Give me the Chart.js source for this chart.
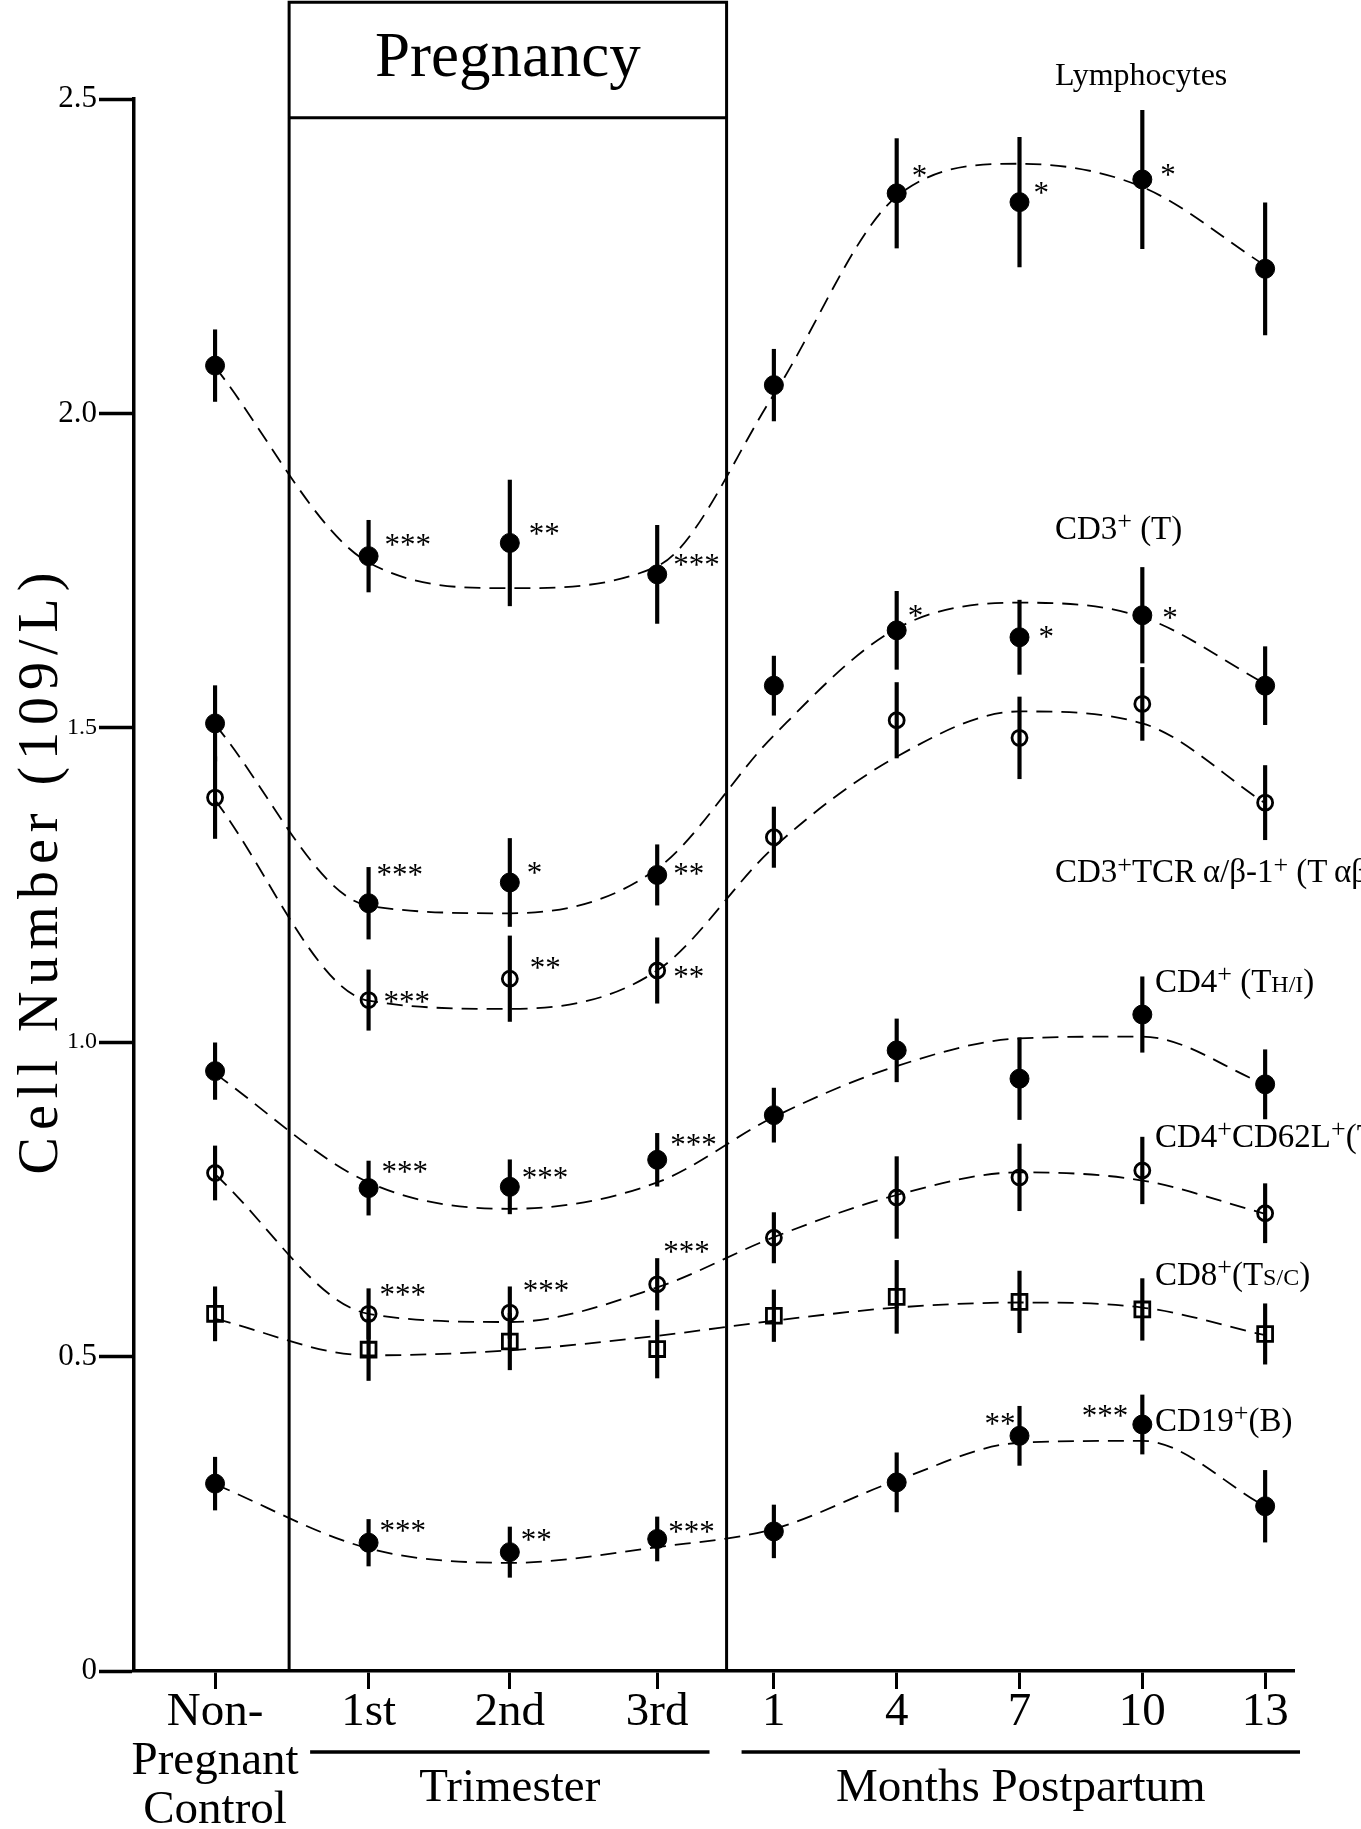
<!DOCTYPE html>
<html>
<head>
<meta charset="utf-8">
<script src="https://cdn.jsdelivr.net/npm/chart.js@4.4.1/dist/chart.umd.min.js"></script>
<style>
  html, body { margin: 0; padding: 0; background: #ffffff; }
  #wrap { width: 1361px; height: 1829px; position: relative; }
</style>
</head>
<body>
<div id="wrap"><canvas id="c"></canvas></div>
<script>
const FONT = "'Liberation Serif', 'Times New Roman', Times, serif";

// ---------- categories / ticks ----------
const categories  = ['Non-Pregnant Control', '1st', '2nd', '3rd', '1', '4', '7', '10', '13'];
const xTickLabels = [['Non-', 'Pregnant', 'Control'], '1st', '2nd', '3rd', '1', '4', '7', '10', '13'];
const xSlots      = [0, 1.25, 2.4, 3.6, 4.55, 5.55, 6.55, 7.55, 8.55];
const yTicks      = [0, 0.5, 1.0, 1.5, 2.0, 2.5];
const yTickLabels = ['0', '0.5', '1.0', '1.5', '2.0', '2.5'];

// ---------- series (cell number, 10^9/L) ----------
const lymphMean = [2.076, 1.773, 1.794, 1.744, 2.045, 2.350, 2.336, 2.372, 2.230];
const lymphSE   = [0.057, 0.057, 0.100, 0.078, 0.057, 0.087, 0.103, 0.110, 0.105];
const lymphFit  = [2.074, 1.763, 1.722, 1.757, 2.030, 2.345, 2.397, 2.360, 2.235];
const lymphSig  = ['', '***', '**', '***', '', '*', '*', '*', ''];

const cd3Mean = [1.507, 1.221, 1.254, 1.266, 1.567, 1.655, 1.644, 1.679, 1.567];
const cd3SE   = [0.060, 0.057, 0.070, 0.048, 0.047, 0.062, 0.059, 0.076, 0.062];
const cd3Fit  = [1.505, 1.217, 1.205, 1.276, 1.488, 1.658, 1.699, 1.676, 1.570];
const cd3Sig  = ['', '***', '*', '**', '', '*', '*', '*', ''];

const tabMean = [1.389, 1.067, 1.101, 1.114, 1.326, 1.512, 1.484, 1.538, 1.381];
const tabSE   = [0.065, 0.048, 0.068, 0.052, 0.048, 0.060, 0.065, 0.058, 0.059];
const tabFit  = [1.385, 1.066, 1.053, 1.114, 1.310, 1.454, 1.526, 1.507, 1.380];
const tabSig  = ['', '***', '**', '**', '', '', '', '', ''];

const cd4Mean = [0.954, 0.768, 0.770, 0.813, 0.884, 0.987, 0.942, 1.044, 0.933];
const cd4SE   = [0.045, 0.043, 0.043, 0.042, 0.043, 0.050, 0.065, 0.060, 0.055];
const cd4Fit  = [0.950, 0.777, 0.735, 0.777, 0.881, 0.962, 1.006, 1.009, 0.933];
const cd4Sig  = ['', '***', '***', '***', '', '', '', '', ''];

const cd62Mean = [0.792, 0.568, 0.570, 0.615, 0.689, 0.753, 0.785, 0.796, 0.728];
const cd62SE   = [0.043, 0.040, 0.041, 0.041, 0.040, 0.065, 0.053, 0.053, 0.047];
const cd62Fit  = [0.790, 0.568, 0.555, 0.610, 0.690, 0.757, 0.793, 0.780, 0.727];
const cd62Sig  = ['', '***', '***', '***', '', '', '', '', ''];

const cd8Mean = [0.568, 0.511, 0.524, 0.512, 0.565, 0.595, 0.587, 0.575, 0.536];
const cd8SE   = [0.043, 0.049, 0.045, 0.046, 0.041, 0.058, 0.049, 0.049, 0.048];
const cd8Fit  = [0.560, 0.502, 0.510, 0.533, 0.557, 0.578, 0.586, 0.578, 0.534];
const cd8Sig  = ['', '', '', '', '', '', '', '', ''];

const cd19Mean = [0.298, 0.204, 0.189, 0.210, 0.222, 0.300, 0.374, 0.392, 0.262];
const cd19SE   = [0.042, 0.037, 0.040, 0.035, 0.042, 0.047, 0.047, 0.047, 0.057];
const cd19Fit  = [0.297, 0.195, 0.172, 0.197, 0.226, 0.303, 0.363, 0.366, 0.262];
const cd19Sig  = ['', '***', '**', '***', '', '', '**', '***', ''];

// ---------- layout / style (not data) ----------
const seriesDefs = [
  { key: 'lymph', name: 'Lymphocytes', mean: lymphMean, se: lymphSE, fit: lymphFit, sig: lymphSig, marker: 'filled' },
  { key: 'cd3',   name: 'CD3+ (T)', mean: cd3Mean, se: cd3SE, fit: cd3Fit, sig: cd3Sig, marker: 'filled' },
  { key: 'tab',   name: 'CD3+TCRα/β-1+ (Tαβ)', mean: tabMean, se: tabSE, fit: tabFit, sig: tabSig, marker: 'open' },
  { key: 'cd4',   name: 'CD4+ (TH/I)', mean: cd4Mean, se: cd4SE, fit: cd4Fit, sig: cd4Sig, marker: 'filled' },
  { key: 'cd62',  name: 'CD4+CD62L+', mean: cd62Mean, se: cd62SE, fit: cd62Fit, sig: cd62Sig, marker: 'open' },
  { key: 'cd8',   name: 'CD8+(Ts/c)', mean: cd8Mean, se: cd8SE, fit: cd8Fit, sig: cd8Sig, marker: 'square' },
  { key: 'cd19',  name: 'CD19+(B)', mean: cd19Mean, se: cd19SE, fit: cd19Fit, sig: cd19Sig, marker: 'filled' }
];

const seriesLabels = {
  lymph: { x: 6.838, y: 2.522, size: 32, parts: [['Lymphocytes']] },
  cd3:   { x: 6.838, y: 1.801, size: 33, parts: [['CD3'], ['+', 'sup'], [' (T)']] },
  tab:   { x: 6.838, y: 1.254, size: 33, parts: [['CD3'], ['+', 'sup'], ['TCR\u2009α/β-1'], ['+', 'sup'], [' (T\u2009αβ)']] },
  cd4:   { x: 7.653, y: 1.080, size: 33, parts: [['CD4'], ['+', 'sup'], [' (T'], ['H/I', 'sc'], [')']] },
  cd62:  { x: 7.653, y: 0.833, size: 33, parts: [['CD4'], ['+', 'sup'], ['CD62L'], ['+', 'sup'], ['(T']] },
  cd8:   { x: 7.653, y: 0.614, size: 33, parts: [['CD8'], ['+', 'sup'], ['(T'], ['S/C', 'sc'], [')']] },
  cd19:  { x: 7.653, y: 0.382, size: 33, parts: [['CD19'], ['+', 'sup'], ['(B)']] }
};

// offsets of significance stars from their point [dx, dy, align]
const sigOffsets = {
  lymph: [null, [16, -16], [19, -14], [16, -14], null, [15, -22], [14, -14], [18, -9], null],
  cd3:   [null, [8, -33], [17, -14], [16, -6], null, [11, -19], [19, -5], [20, -2], null],
  tab:   [null, [15, -3], [20, -16], [16, 1], null, null, null, null, null],
  cd4:   [null, [13, -21], [12, -14], [13, -20], null, null, null, null, null],
  cd62:  [null, [11, -24], [13, -27], [6, -37], null, null, null, null, null],
  cd8:   [null, null, null, null, null, null, null, null, null],
  cd19:  [null, [11, -17], [11, -17], [11, -12], null, null, [-4, -17, 'right'], [-14, -14, 'right'], null]
};

const pregnancyBox = { left: 0.603, right: 4.165, top: 2.654, header: 2.47, title: 'Pregnancy' };
const groupBands = [
  { label: 'Trimester', from: 0.774, to: 4.026 },
  { label: 'Months Postpartum', from: 4.287, to: 8.834 }
];
const yTitle = 'Cell Number (109/L)';

// ---------- datasets ----------
const datasets = [];
seriesDefs.forEach(s => {
  datasets.push({
    type: 'line', label: s.name + ' fit',
    data: xSlots.map((x, i) => ({ x: x, y: s.fit[i] })),
    borderColor: '#000', borderWidth: 1.8, borderDash: [16, 9],
    pointRadius: 0, pointHoverRadius: 0, fill: false,
    cubicInterpolationMode: 'monotone', order: 3
  });
  datasets.push({
    type: 'bar', label: s.name + ' SE',
    data: xSlots.map((x, i) => ({ x: x, y: [s.mean[i] - s.se[i], s.mean[i] + s.se[i]] })),
    backgroundColor: '#000', borderWidth: 0, barThickness: 3.5, grouped: false, order: 2
  });
  const m = s.marker;
  const r = m === 'filled' ? 9.5 : (m === 'open' ? 7.5 : 10.5);
  datasets.push({
    type: 'scatter', label: s.name,
    data: xSlots.map((x, i) => ({ x: x, y: s.mean[i] })),
    pointStyle: m === 'square' ? 'rect' : 'circle',
    pointRadius: r,
    pointHoverRadius: r,
    backgroundColor: m === 'filled' ? '#000' : 'rgba(0,0,0,0)',
    borderColor: '#000',
    borderWidth: m === 'filled' ? 1 : 2.8,
    showLine: false, order: 1
  });
});

// ---------- drawing helpers ----------
function richText(ctx, x, y, parts, base) {
  let cx = x;
  parts.forEach(p => {
    const t = p[0], kind = p[1];
    let size = base, dy = 0;
    if (kind === 'sup') { size = Math.round(base * 0.78); dy = -base * 0.3; }
    if (kind === 'sc') { size = Math.round(base * 0.72); }
    ctx.font = size + 'px ' + FONT;
    ctx.fillText(t, cx, y + dy);
    cx += ctx.measureText(t).width;
  });
}

const annotations = {
  id: 'annotations',
  afterDatasetsDraw(chart) {
    const ctx = chart.ctx;
    const xs = chart.scales.x, ys = chart.scales.y;
    const area = chart.chartArea;
    ctx.save();
    ctx.fillStyle = '#000';
    ctx.strokeStyle = '#000';

    // Pregnancy box
    const bl = xs.getPixelForValue(pregnancyBox.left);
    const br = xs.getPixelForValue(pregnancyBox.right);
    const bt = ys.getPixelForValue(pregnancyBox.top);
    const bh = ys.getPixelForValue(pregnancyBox.header);
    ctx.lineWidth = 3;
    ctx.beginPath();
    ctx.moveTo(bl, area.bottom); ctx.lineTo(bl, bt); ctx.lineTo(br, bt); ctx.lineTo(br, area.bottom);
    ctx.moveTo(bl, bh); ctx.lineTo(br, bh);
    ctx.stroke();
    ctx.font = '63px ' + FONT;
    ctx.textAlign = 'center';
    ctx.textBaseline = 'alphabetic';
    ctx.fillText(pregnancyBox.title, (bl + br) / 2, bt + 74);

    // significance stars
    ctx.font = '31px ' + FONT;
    seriesDefs.forEach(s => {
      s.sig.forEach((txt, i) => {
        if (!txt) return;
        const off = sigOffsets[s.key][i] || [13, -15];
        const px = xs.getPixelForValue(xSlots[i]);
        const py = ys.getPixelForValue(s.mean[i]);
        ctx.textAlign = off[2] || 'left';
        ctx.fillText(txt, px + off[0], py + off[1] + 15);
      });
    });

    // series labels
    ctx.textAlign = 'left';
    seriesDefs.forEach(s => {
      const L = seriesLabels[s.key];
      richText(ctx, xs.getPixelForValue(L.x), ys.getPixelForValue(L.y), L.parts, L.size);
    });

    // group bands under the x axis
    ctx.lineWidth = 3.5;
    ctx.font = '47px ' + FONT;
    ctx.textAlign = 'center';
    groupBands.forEach(g => {
      const a = xs.getPixelForValue(g.from), b = xs.getPixelForValue(g.to);
      ctx.beginPath();
      ctx.moveTo(a, area.bottom + 81); ctx.lineTo(b, area.bottom + 81);
      ctx.stroke();
      ctx.fillText(g.label, (a + b) / 2, area.bottom + 130);
    });

    // y title
    ctx.save();
    ctx.translate(57, (area.top + area.bottom) / 2 - 15);
    ctx.rotate(-Math.PI / 2);
    ctx.font = '56px ' + FONT;
    try { ctx.letterSpacing = '7px'; } catch (e) {}
    ctx.textAlign = 'center';
    ctx.textBaseline = 'alphabetic';
    ctx.fillText(yTitle, 0, 0);
    ctx.restore();

    ctx.restore();
  }
};

new Chart(document.getElementById('c'), {
  type: 'scatter',
  data: { datasets: datasets },
  options: {
    responsive: true,
    maintainAspectRatio: false,
    animation: false,
    events: [],
    layout: { padding: { top: 99, right: 67, bottom: 0, left: 0 } },
    plugins: { legend: { display: false }, tooltip: { enabled: false }, title: { display: false } },
    scales: {
      x: {
        type: 'linear', min: -0.66, max: 8.785, offset: false,
        afterBuildTicks: s => { s.ticks = xSlots.map(v => ({ value: v })); },
        afterFit: s => { s.height = 158; },
        grid: { display: true, drawOnChartArea: false, drawTicks: true, tickLength: 18, tickWidth: 3, tickColor: '#000', offset: false },
        border: { display: true, color: '#000', width: 3.5 },
        ticks: {
          autoSkip: false, maxRotation: 0, minRotation: 0, padding: -1, color: '#000',
          font: { family: FONT, size: 47, lineHeight: 1.04 },
          callback: (v, i) => xTickLabels[i]
        }
      },
      y: {
        type: 'linear', min: 0, max: 2.5,
        afterBuildTicks: s => { s.ticks = yTicks.map(v => ({ value: v })); },
        afterFit: s => { s.width = 134; },
        grid: { display: true, drawOnChartArea: false, drawTicks: true, tickLength: 35, tickWidth: 3.5, tickColor: '#000' },
        border: { display: true, color: '#000', width: 3.5 },
        ticks: {
          padding: 2, color: '#000',
          font: ctx => ({ family: FONT, size: (ctx.tick && (ctx.tick.value === 1 || ctx.tick.value === 1.5)) ? 24 : 31 }),
          callback: (v, i) => yTickLabels[i]
        }
      }
    }
  },
  plugins: [annotations]
});
</script>
</body>
</html>
